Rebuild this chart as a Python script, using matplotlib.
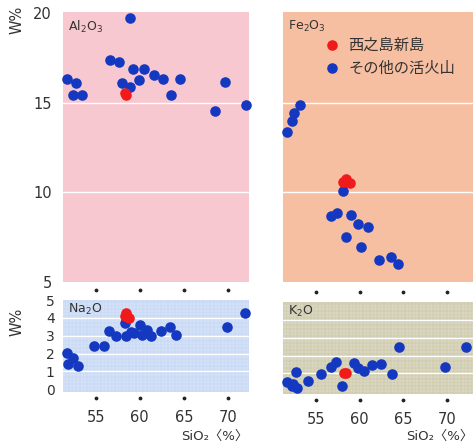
import matplotlib
matplotlib.use("Agg")
import matplotlib.pyplot as plt
import matplotlib.transforms as mtransforms
import numpy as np

# ---- data (SiO2 wt%, oxide wt%) ----
al_x = [51.7, 52.75, 52.4, 53.4, 56.6, 57.7, 58.9, 58.0, 58.9, 59.2, 59.9, 60.5,
        61.6, 62.6, 63.6, 64.55, 68.5, 69.65, 72.1]
al_y = [16.33, 16.08, 15.41, 15.41, 17.36, 17.27, 19.7, 16.08, 15.87, 16.86, 16.25,
        16.89, 16.54, 16.33, 15.41, 16.33, 14.53, 16.15, 14.87]
al_red_x = [58.45, 58.35]
al_red_y = [15.41, 15.55]

fe_x = [53.17, 52.5, 52.2, 51.65, 58.1, 56.7, 57.4, 59.0, 59.8, 61.0, 58.4, 60.2,
        62.2, 63.6, 64.35]
fe_y = [14.87, 14.44, 14.0, 13.38, 10.07, 8.68, 8.83, 8.73, 8.21, 8.08, 7.52, 6.97,
        6.22, 6.41, 6.02]
fe_red_x = [58.4, 58.9, 58.1]
fe_red_y = [10.75, 10.5, 10.6]

na_x = [51.7, 52.4, 51.9, 53.0, 54.8, 55.9, 56.5, 57.3, 58.3, 58.5, 59.3, 60.0,
        60.3, 61.3, 62.4, 63.45, 64.1, 69.85, 72.0, 59.0, 60.8]
na_y = [2.04, 1.76, 1.44, 1.31, 2.43, 2.43, 3.28, 2.98, 3.69, 2.98, 3.13, 3.6,
        3.06, 2.98, 3.28, 3.47, 3.03, 3.47, 4.25, 3.2, 3.3]
na_red_x = [58.3, 58.8, 58.5]
na_red_y = [4.1, 4.0, 4.25]

k_x = [51.65, 52.2, 52.85, 52.7, 54.1, 55.6, 56.7, 57.25, 58.0, 59.3, 59.8, 60.5,
       61.4, 62.4, 63.65, 64.5, 69.75, 72.2, 52.3]
k_y = [0.51, 0.31, 0.18, 1.1, 0.55, 0.96, 1.35, 1.63, 0.31, 1.58, 1.33, 1.15,
       1.48, 1.52, 0.96, 2.47, 1.35, 2.5, 0.4]
k_red_x = [58.2, 58.4]
k_red_y = [1.05, 1.0]

xticks = [55, 60, 65, 70]
top_yticks = [5, 10, 15, 20]
bot_yticks = [0, 1, 2, 3, 4, 5]
legend_labels = ["西之島新島", "その他の活火山"]

BLUE = "#1538c0"
RED = "#f01a1a"
TXT = "#333333"

W, H = 473, 443
fig = plt.figure(figsize=(W / 100, H / 100), dpi=100)
fig.patch.set_facecolor("white")


def add_ax(l, r, t, b):
    return fig.add_axes([l / W, 1 - b / H, (r - l) / W, (b - t) / H])


ax_al = add_ax(63, 249, 12, 282)
ax_fe = add_ax(283, 473, 12, 282)
ax_na = add_ax(63, 249, 300, 392)
ax_k = add_ax(283, 473, 302, 394)

cfg = [
    (ax_al, "#f8c8d0", (51.3, 72.4), (5, 20.05), [10, 15]),
    (ax_fe, "#f7bfa2", (51.2, 73.0), (5, 20.05), [10, 15]),
    (ax_na, "#c9d9f6", (51.3, 72.4), (-0.15, 5.0), [1, 2, 3, 4]),
    (ax_k, "#cfccb0", (51.2, 73.0), (-0.15, 5.0), [1, 2, 3, 4]),
]
for ax, bg, xl, yl, lines in cfg:
    ax.set_facecolor(bg)
    ax.set_xlim(*xl)
    ax.set_ylim(*yl)
    for s in ax.spines.values():
        s.set_visible(False)
    ax.tick_params(length=0)
    for v in lines:
        ax.axhline(v, color="white", lw=1.0, zorder=1)

# graph-paper texture in lower panels
for ax in (ax_na, ax_k):
    for v in np.arange(51.0, 73.5, 0.4):
        ax.axvline(v, color="white", lw=0.35, alpha=0.45, zorder=0.5)
    for v in np.arange(-0.2, 5.0, 0.2):
        ax.axhline(v, color="white", lw=0.35, alpha=0.45, zorder=0.5)

S = 58
for ax, bx, by, rx, ry in [
    (ax_al, al_x, al_y, al_red_x, al_red_y),
    (ax_fe, fe_x, fe_y, fe_red_x, fe_red_y),
    (ax_na, na_x, na_y, na_red_x, na_red_y),
    (ax_k, k_x, k_y, k_red_x, k_red_y),
]:
    ax.scatter(bx, by, s=S, color=BLUE, linewidths=0, zorder=3, clip_on=False)
    ax.scatter(rx, ry, s=S, color=RED, linewidths=0, zorder=4, clip_on=False)

# ticks
ax_al.set_yticks(top_yticks)
ax_al.set_yticklabels([str(v) for v in top_yticks], fontsize=10.5, color=TXT)
ax_al.tick_params(axis="y", pad=8)
ax_fe.set_yticks([])
ax_na.set_yticks(bot_yticks)
ax_na.set_yticklabels([str(v) for v in bot_yticks], fontsize=10, color=TXT)
ax_na.tick_params(axis="y", pad=6)
ax_k.set_yticks([])
for ax in (ax_al, ax_fe):
    ax.set_xticks([])
for ax in (ax_na, ax_k):
    ax.set_xticks(xticks)
    ax.set_xticklabels([str(v) for v in xticks], fontsize=10.5, color=TXT)
    ax.tick_params(axis="x", pad=13)

# tick dots
for ax in (ax_na, ax_k):
    tr = mtransforms.blended_transform_factory(ax.transData, ax.transAxes)
    ax.scatter(xticks, [1.11] * 4, s=3, color="#222222", transform=tr, clip_on=False, zorder=5)
    ax.scatter(xticks, [-0.07] * 4, s=3, color="#222222", transform=tr, clip_on=False, zorder=5)

# panel labels
labels = [(ax_al, "Al$_2$O$_3$"), (ax_fe, "Fe$_2$O$_3$"), (ax_na, "Na$_2$O"), (ax_k, "K$_2$O")]
for ax, t in labels:
    ax.text(0.025, 0.975, t, transform=ax.transAxes, ha="left", va="top",
            fontsize=9, color=TXT)

# legend
cjk = ["Noto Sans CJK JP", "DejaVu Sans"]
for i, (lab, col) in enumerate(zip(legend_labels, [RED, BLUE])):
    yy = 0.877 - i * 0.085
    ax_fe.scatter([0.26], [yy], s=S, color=col, linewidths=0, transform=ax_fe.transAxes,
                  clip_on=False, zorder=5)
    ax_fe.text(0.345, yy, lab, transform=ax_fe.transAxes, ha="left", va="center",
               fontsize=11, color=TXT, family=cjk)

# axis titles
fig.text(17 / W, 1 - 20 / H, "W%", rotation=90, ha="center", va="center",
         fontsize=10.5, color=TXT)
fig.text(17 / W, 1 - 322 / H, "W%", rotation=90, ha="center", va="center",
         fontsize=10.5, color=TXT)
fig.text(215 / W, 1 - 436 / H, "SiO₂〈%〉", ha="center", va="center",
         fontsize=9.5, color=TXT, family=["DejaVu Sans", "Noto Sans CJK JP"])
fig.text(440 / W, 1 - 436 / H, "SiO₂〈%〉", ha="center", va="center",
         fontsize=9.5, color=TXT, family=["DejaVu Sans", "Noto Sans CJK JP"])

fig.savefig("out.png", dpi=100)
